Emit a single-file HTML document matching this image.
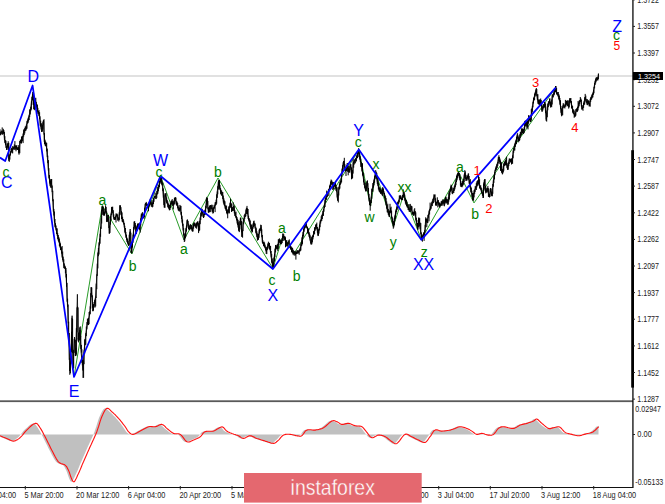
<!DOCTYPE html>
<html><head><meta charset="utf-8"><title>chart</title>
<style>
html,body{margin:0;padding:0;background:#fff;}
svg{display:block;font-family:"Liberation Sans",sans-serif;}
</style></head><body>
<svg width="665" height="504" viewBox="0 0 665 504">
<rect width="665" height="504" fill="#fff"/>
<!-- current price line -->
<rect x="0" y="75.5" width="633" height="1" fill="#c4c4c4"/>
<!-- wave lines -->
<polyline points="74.0,377.0 102.3,205.5 131.9,254.0 160.5,176.0 183.9,239.8 218.0,178.0 272.9,268.5 282.9,236.0 293.8,253.8 358.8,150.0 370.5,206.2 375.7,172.9 393.3,226.5 403.8,194.0 421.3,239.5 459.0,173.0 474.0,202.9 555.7,87.6" fill="none" stroke="#109010" stroke-width="0.9" stroke-linejoin="round"/>
<!-- price -->
<path d="M0.0 129.3V135.1M0.6 132.1V135.3M1.1 131.0V133.3M1.7 130.5V133.4M2.2 127.4V134.9M2.8 130.8V134.3M3.3 128.8V133.7M3.8 130.0V133.7M4.4 131.9V139.8M4.9 136.2V142.9M5.5 140.2V144.9M6.0 140.7V148.0M6.6 146.1V150.0M7.1 143.4V149.9M7.7 143.6V147.5M8.2 141.2V147.8M8.8 142.8V161.1M9.3 155.4V161.8M9.9 154.2V159.6M10.5 151.3V155.5M11.0 149.0V152.9M11.6 147.7V151.8M12.1 148.3V153.3M12.7 146.2V153.3M13.2 146.4V149.7M13.8 146.9V149.2M14.3 144.4V149.9M14.9 141.1V148.7M15.4 145.5V149.7M16.0 145.3V151.3M16.5 145.4V148.5M17.1 147.4V149.7M17.6 147.4V150.0M18.2 145.0V149.9M18.7 146.6V152.9M19.3 148.5V152.4M19.8 140.9V153.2M20.4 139.5V143.1M20.9 140.0V143.3M21.5 136.8V143.5M22.0 136.0V139.4M22.6 136.0V141.4M23.1 133.4V143.1M23.7 129.5V136.6M24.2 129.5V135.0M24.8 127.8V133.4M25.3 126.4V131.1M25.9 126.7V130.8M26.4 124.4V129.5M27.0 120.8V128.7M27.5 120.6V123.6M28.1 118.6V123.2M28.6 117.3V121.5M29.2 115.3V120.0M29.7 109.5V117.1M30.3 108.9V114.5M30.8 106.9V111.2M31.4 101.3V109.7M31.9 96.8V104.8M32.5 94.1V100.4M33.0 92.3V99.2M33.6 93.0V104.9M34.1 101.5V109.7M34.7 103.6V110.2M35.2 98.1V105.4M35.8 97.8V105.4M36.3 101.8V107.2M36.9 104.1V108.9M37.4 104.8V112.4M37.9 107.8V114.1M38.5 111.0V113.7M39.0 110.1V116.0M39.6 112.2V119.2M40.1 116.3V125.7M40.7 120.6V126.7M41.2 123.6V129.4M41.8 123.2V131.6M42.3 124.9V131.6M42.9 121.5V129.3M43.4 120.0V124.7M44.0 119.2V134.6M44.5 133.1V144.2M45.1 139.7V145.6M45.6 141.4V146.1M46.2 142.6V146.7M46.7 142.8V151.4M47.3 148.6V157.0M47.8 155.6V163.1M48.4 160.1V170.6M48.9 168.2V178.4M49.5 175.1V182.7M50.0 178.9V186.2M50.6 180.6V187.7M51.1 179.1V184.4M51.7 179.0V187.9M52.2 185.5V192.1M52.8 190.7V201.2M53.3 199.3V211.6M53.9 208.9V215.5M54.4 211.5V222.6M55.0 219.0V227.3M55.5 223.2V227.3M56.1 225.5V230.3M56.6 228.2V234.0M57.2 228.4V235.9M57.7 233.0V239.3M58.3 235.0V240.9M58.8 237.0V242.3M59.4 238.5V246.0M59.9 241.6V247.5M60.5 243.3V250.0M61.0 246.8V249.6M61.6 247.3V253.6M62.1 246.0V257.6M62.7 251.5V260.2M63.2 256.6V261.9M63.8 259.3V268.1M64.3 263.4V268.3M64.9 265.6V268.9M65.4 266.5V273.3M66.0 268.0V277.5M66.5 274.0V286.8M67.1 282.8V301.7M67.6 298.6V306.9M68.2 304.5V323.4M68.7 321.6V337.0M69.3 333.0V359.9M69.8 358.1V374.8M70.4 362.6V373.4M70.9 349.2V364.2M71.5 331.7V352.3M72.0 317.8V332.9M72.6 319.0V353.1M73.1 350.7V369.4M73.7 349.8V368.2M74.2 338.9V352.9M74.8 338.6V342.7M75.3 340.0V356.1M75.9 347.8V355.6M76.4 328.1V354.6M77.0 307.4V332.3M77.5 306.4V309.6M78.1 307.4V341.3M78.6 332.6V342.4M79.2 332.7V340.2M79.7 327.3V340.6M80.3 326.4V339.4M80.8 335.8V349.0M81.4 344.9V352.6M81.9 349.2V362.8M82.5 359.6V365.4M83.0 362.1V377.9M83.6 360.2V377.8M84.1 350.3V364.2M84.7 339.4V353.7M85.2 339.2V345.2M85.8 333.2V344.8M86.3 326.5V336.2M86.9 322.1V329.4M87.4 318.7V324.6M88.0 318.5V324.2M88.5 317.9V325.1M89.1 312.0V324.2M89.6 311.4V315.1M90.2 306.3V314.0M90.7 293.2V308.8M91.3 287.9V295.3M91.8 287.5V297.2M92.4 295.3V307.8M92.9 305.3V311.4M93.5 304.1V310.3M94.0 302.1V307.3M94.6 300.1V303.6M95.1 298.6V307.5M95.7 296.5V306.4M96.2 283.6V298.0M96.8 274.3V289.2M97.3 263.7V275.9M97.9 252.5V268.4M98.4 248.0V256.2M99.0 242.4V254.5M99.5 238.5V245.4M100.1 233.8V243.7M100.6 226.8V236.8M101.2 218.3V228.9M101.7 209.8V223.5M102.3 207.0V214.8M102.8 205.8V211.1M103.4 207.3V214.9M103.9 211.6V216.0M104.5 212.4V215.5M105.0 209.2V213.9M105.6 205.3V212.4M106.1 206.9V213.2M106.7 211.5V221.5M107.2 218.0V222.1M107.8 214.8V221.0M108.3 215.1V220.3M108.9 218.2V228.0M109.4 225.6V233.1M110.0 221.8V232.9M110.5 216.3V224.7M111.1 213.6V220.2M111.6 206.9V215.1M112.2 206.9V210.7M112.7 206.7V213.3M113.3 210.2V217.1M113.8 214.3V218.7M114.4 217.2V220.0M114.9 216.9V219.9M115.5 216.6V219.7M116.0 213.4V222.5M116.6 213.8V216.4M117.1 213.7V217.5M117.7 214.6V220.7M118.2 217.6V219.9M118.8 217.6V221.6M119.3 212.2V220.2M119.9 205.8V215.2M120.4 205.7V209.5M121.0 207.2V214.5M121.5 211.2V219.1M122.1 212.4V221.6M122.6 216.8V222.2M123.2 219.0V222.5M123.7 220.6V224.5M124.3 222.9V227.7M124.8 225.8V232.6M125.4 228.0V234.3M125.9 231.9V237.7M126.5 234.6V239.8M127.0 237.6V242.1M127.6 238.6V243.4M128.1 240.9V244.7M128.7 243.1V246.0M129.2 234.7V245.2M129.8 232.2V241.0M130.3 231.3V234.6M130.9 232.7V248.5M131.4 243.8V253.3M132.0 246.1V253.2M132.5 239.6V247.6M133.1 234.6V242.8M133.6 227.1V237.2M134.2 221.3V229.5M134.7 221.2V227.3M135.3 223.0V228.3M135.8 225.0V233.1M136.4 227.2V234.0M136.9 225.9V230.1M137.5 224.1V230.6M138.0 223.0V226.1M138.6 223.5V228.9M139.1 225.8V227.5M139.7 225.4V230.4M140.2 222.3V232.6M140.8 218.3V225.4M141.3 213.6V220.2M141.9 213.4V217.9M142.4 212.1V216.7M143.0 214.3V217.1M143.5 214.2V218.1M144.1 214.5V218.9M144.6 207.6V217.1M145.2 203.9V211.1M145.7 203.3V205.2M146.3 201.9V206.1M146.8 203.5V205.6M147.4 203.9V208.3M147.9 204.2V208.3M148.5 203.6V211.3M149.0 202.5V206.8M149.6 200.9V205.9M150.2 198.8V204.9M150.7 200.2V204.0M151.3 201.4V206.7M151.8 203.2V206.7M152.4 202.6V207.4M152.9 200.1V206.8M153.5 198.2V204.1M154.0 196.7V201.8M154.6 196.0V197.9M155.1 192.6V197.5M155.7 196.0V198.9M156.2 193.4V199.1M156.8 191.0V197.9M157.3 186.8V194.4M157.9 188.8V193.7M158.4 185.1V191.3M159.0 184.5V188.6M159.5 181.0V187.0M160.1 178.8V183.8M160.6 175.9V182.5M161.2 175.7V182.4M161.7 178.2V184.6M162.3 181.8V185.4M162.8 182.9V191.1M163.4 188.4V197.7M163.9 195.1V205.1M164.5 201.8V207.2M165.0 193.6V207.8M165.6 194.0V196.8M166.1 193.0V201.7M166.7 197.4V203.1M167.2 199.9V204.1M167.8 201.4V207.2M168.3 203.5V208.0M168.9 203.6V208.8M169.4 205.0V210.4M170.0 205.1V210.0M170.5 203.2V207.9M171.1 201.1V205.1M171.6 201.4V204.3M172.2 199.1V203.4M172.7 200.8V206.0M173.3 202.4V209.4M173.8 200.8V205.3M174.4 197.8V204.4M174.9 197.4V200.6M175.5 197.2V200.9M176.0 197.6V204.4M176.6 201.2V205.3M177.1 201.7V205.8M177.7 203.0V208.3M178.2 205.4V210.4M178.8 206.9V211.0M179.3 208.3V211.6M179.9 204.9V211.1M180.4 205.7V209.8M181.0 205.9V214.7M181.5 211.9V219.0M182.1 215.7V222.6M182.6 219.5V225.8M183.2 223.7V230.4M183.7 228.1V235.5M184.3 233.5V242.0M184.8 235.8V241.3M185.4 232.7V238.4M185.9 228.2V236.7M186.5 225.4V231.6M187.0 220.2V227.6M187.6 220.2V223.5M188.1 221.0V225.8M188.7 223.7V229.4M189.2 225.5V230.2M189.8 226.5V229.7M190.3 224.9V229.2M190.9 225.2V226.4M191.4 225.2V229.0M192.0 226.7V231.2M192.5 228.2V231.6M193.1 224.5V231.5M193.6 223.6V228.7M194.2 222.3V226.5M194.7 222.8V225.9M195.3 223.4V226.4M195.8 224.2V228.0M196.4 222.5V228.7M196.9 222.7V226.3M197.5 221.5V224.7M198.0 221.4V226.4M198.6 223.1V233.1M199.1 226.0V231.1M199.7 220.9V230.3M200.2 217.5V224.2M200.8 212.9V220.1M201.3 211.4V216.5M201.9 208.7V215.5M202.4 209.4V213.4M203.0 211.7V217.1M203.5 214.4V218.0M204.1 210.6V217.2M204.6 210.6V215.2M205.2 209.6V214.9M205.7 205.8V212.5M206.3 198.5V208.4M206.8 196.9V204.9M207.4 198.0V203.8M207.9 200.9V209.3M208.5 207.3V212.6M209.0 208.4V212.6M209.6 205.5V212.1M210.1 205.9V209.1M210.7 205.2V212.1M211.2 205.3V209.1M211.8 204.6V208.9M212.3 207.7V212.3M212.9 204.9V213.7M213.4 207.6V213.0M214.0 207.2V209.1M214.5 205.5V208.4M215.1 202.3V212.1M215.6 202.2V205.7M216.2 199.7V204.9M216.7 194.3V203.7M217.3 191.4V197.9M217.8 186.2V194.3M218.4 181.6V189.6M218.9 180.8V185.7M219.5 179.9V188.6M220.0 184.9V189.8M220.6 188.1V193.9M221.1 189.8V194.8M221.7 190.6V195.8M222.2 191.9V195.2M222.8 192.0V199.0M223.3 195.5V202.5M223.9 198.4V204.6M224.4 200.4V205.8M225.0 201.3V208.6M225.5 205.4V209.3M226.1 206.3V210.9M226.6 205.5V213.1M227.2 209.4V214.4M227.7 210.3V218.3M228.3 209.1V213.4M228.8 206.4V212.2M229.4 206.4V213.4M229.9 202.7V208.0M230.5 198.7V206.9M231.0 202.8V208.0M231.6 203.6V212.0M232.1 207.0V211.2M232.7 207.2V210.9M233.2 202.3V210.7M233.8 206.8V210.8M234.3 205.5V213.4M234.9 210.2V215.9M235.4 212.3V216.4M236.0 211.7V217.8M236.5 216.1V220.4M237.1 217.2V223.5M237.6 218.9V224.9M238.2 220.2V227.5M238.7 222.2V230.6M239.3 227.2V232.1M239.8 221.1V229.3M240.4 217.4V224.9M240.9 218.0V225.1M241.5 221.1V232.2M242.0 230.0V236.2M242.6 229.7V237.7M243.1 221.7V231.1M243.7 218.5V224.3M244.2 215.2V221.2M244.8 213.7V218.8M245.3 214.5V216.9M245.9 209.4V216.3M246.4 207.7V214.0M247.0 205.9V212.4M247.5 208.4V214.1M248.1 209.0V219.0M248.6 215.8V220.4M249.2 218.1V221.7M249.7 219.4V224.3M250.3 220.5V227.2M250.8 223.9V229.3M251.4 224.8V230.8M251.9 224.7V232.8M252.5 227.1V231.9M253.0 223.4V228.8M253.6 221.2V227.1M254.1 220.6V225.2M254.7 222.9V225.8M255.2 223.7V228.4M255.8 226.8V232.8M256.3 228.2V234.4M256.9 231.3V236.9M257.4 233.4V240.7M258.0 236.0V239.5M258.5 234.0V239.8M259.1 229.7V237.8M259.6 228.6V233.6M260.2 228.3V231.1M260.7 224.7V230.5M261.3 225.1V232.9M261.8 229.3V237.2M262.4 235.0V242.9M262.9 240.2V244.1M263.5 242.0V246.0M264.0 241.6V246.6M264.6 242.5V247.2M265.1 244.7V247.9M265.7 246.5V250.2M266.2 247.5V253.9M266.8 247.2V254.1M267.3 246.4V250.2M267.9 243.3V249.1M268.4 241.7V245.9M269.0 242.9V248.1M269.5 242.9V249.4M270.1 245.9V249.7M270.6 245.9V253.2M271.2 251.0V257.3M271.7 253.9V262.8M272.3 258.4V265.9M272.8 261.4V269.0M273.4 262.2V267.5M273.9 257.6V266.8M274.5 253.9V261.6M275.0 248.7V257.1M275.6 245.1V252.4M276.1 244.9V249.4M276.7 246.3V248.3M277.2 244.7V249.4M277.8 244.0V250.9M278.3 239.3V248.9M278.9 239.5V245.0M279.4 238.3V242.8M280.0 239.0V242.6M280.5 240.1V244.1M281.1 240.8V244.3M281.6 240.4V244.1M282.2 238.2V243.0M282.7 233.5V241.0M283.3 233.6V237.4M283.8 234.3V240.9M284.4 236.3V239.5M284.9 236.1V239.9M285.5 237.2V247.3M286.0 240.3V244.1M286.6 240.2V246.4M287.1 243.0V246.3M287.7 242.0V246.6M288.2 240.3V244.5M288.8 240.8V243.4M289.3 239.4V247.2M289.9 244.2V247.9M290.4 245.0V249.2M291.0 246.1V249.9M291.5 247.2V252.4M292.1 247.5V250.8M292.6 248.0V253.6M293.2 249.7V255.1M293.7 250.5V253.9M294.3 251.0V255.7M294.8 251.7V254.2M295.4 251.3V255.4M295.9 251.7V259.6M296.5 251.5V254.1M297.0 250.0V253.0M297.6 250.7V253.8M298.1 250.0V253.4M298.7 251.0V253.4M299.2 249.8V254.8M299.8 248.6V251.7M300.3 247.1V251.1M300.9 243.7V250.5M301.4 241.7V246.2M302.0 237.4V245.4M302.5 235.0V243.9M303.1 232.0V238.2M303.6 228.6V236.4M304.2 226.0V231.7M304.7 224.4V229.2M305.3 222.7V227.9M305.8 221.9V226.7M306.4 223.2V227.6M306.9 225.9V228.4M307.5 226.9V233.5M308.0 228.9V231.9M308.6 228.3V234.3M309.1 232.0V236.8M309.7 233.5V238.1M310.2 235.3V240.6M310.8 239.3V243.1M311.3 237.3V244.5M311.9 236.6V244.3M312.4 235.9V242.4M313.0 235.0V239.4M313.5 231.2V237.2M314.1 230.7V234.2M314.6 227.2V234.4M315.2 227.7V230.8M315.7 224.8V229.2M316.3 224.0V227.9M316.8 222.6V229.3M317.4 227.0V232.9M317.9 228.9V236.1M318.5 229.6V235.8M319.0 228.7V233.6M319.6 224.6V230.4M320.1 220.5V227.2M320.7 219.6V223.5M321.2 216.3V221.4M321.8 214.9V220.9M322.3 213.7V219.0M322.9 211.0V215.7M323.4 209.0V215.9M324.0 206.5V211.7M324.5 203.7V208.1M325.1 199.9V207.0M325.6 197.6V202.8M326.2 196.1V199.9M326.7 190.6V199.6M327.3 192.2V197.0M327.8 191.7V196.2M328.4 189.4V193.2M328.9 188.9V195.9M329.5 185.9V190.1M330.0 184.9V189.5M330.6 181.9V187.4M331.1 179.5V185.3M331.7 180.2V184.2M332.2 181.6V184.9M332.8 181.9V190.0M333.3 182.0V189.4M333.9 183.0V189.3M334.4 184.2V186.7M335.0 182.4V186.5M335.5 183.0V188.4M336.1 184.8V190.9M336.6 186.9V191.6M337.2 187.4V197.5M337.7 194.2V200.9M338.3 191.5V202.5M338.8 187.1V195.5M339.4 183.8V189.5M339.9 181.7V188.6M340.5 180.8V184.7M341.0 179.6V183.6M341.6 173.3V182.4M342.1 168.7V175.6M342.7 165.1V172.7M343.2 162.1V169.6M343.8 160.9V165.5M344.3 157.8V167.4M344.9 164.2V170.4M345.4 167.3V171.4M346.0 168.6V176.0M346.5 165.4V171.0M347.1 163.2V167.3M347.6 163.1V171.8M348.2 165.5V175.3M348.7 167.5V172.5M349.3 168.8V172.6M349.8 166.0V172.5M350.4 164.6V167.5M350.9 164.1V170.2M351.5 167.3V179.3M352.0 171.2V177.5M352.6 170.1V178.2M353.1 159.2V173.6M353.7 161.6V167.7M354.2 159.2V164.6M354.8 160.2V163.5M355.3 158.3V163.2M355.9 158.1V161.5M356.4 155.6V161.3M357.0 154.7V158.1M357.5 152.1V158.2M358.1 151.7V157.1M358.6 148.2V154.2M359.2 150.0V156.2M359.7 153.2V159.6M360.3 156.3V162.0M360.8 158.7V166.9M361.4 162.2V166.9M361.9 164.0V171.4M362.5 163.2V175.4M363.0 172.0V176.3M363.6 173.1V182.3M364.1 178.6V185.1M364.7 182.4V187.9M365.2 185.5V189.4M365.8 182.9V191.6M366.3 185.9V191.2M366.9 181.7V188.4M367.4 180.3V185.6M368.0 183.2V191.8M368.5 188.0V197.1M369.1 193.8V201.6M369.6 198.0V205.0M370.2 201.7V210.7M370.7 199.8V206.0M371.3 196.6V203.0M371.8 188.8V198.7M372.4 188.4V191.7M372.9 183.0V191.7M373.5 182.0V187.6M374.0 179.6V185.3M374.6 176.2V182.8M375.1 174.4V179.1M375.7 170.1V177.5M376.2 171.6V176.0M376.8 172.9V179.2M377.3 177.4V184.0M377.9 179.1V185.8M378.4 182.4V189.5M379.0 186.4V191.4M379.5 187.3V191.9M380.1 189.2V192.9M380.6 188.2V193.9M381.2 191.4V193.5M381.7 189.7V194.6M382.3 187.7V195.6M382.8 187.1V196.2M383.4 188.4V192.3M383.9 191.1V194.2M384.5 192.8V198.0M385.0 194.8V199.2M385.6 196.2V202.6M386.1 198.1V205.3M386.7 201.4V208.7M387.2 205.1V212.3M387.8 203.7V212.5M388.3 208.9V214.9M388.9 211.9V216.5M389.4 210.8V217.0M390.0 203.8V212.9M390.5 207.7V212.5M391.1 206.7V213.3M391.6 210.6V218.5M392.2 216.7V222.3M392.7 218.3V224.1M393.3 221.0V228.7M393.8 221.6V227.4M394.4 217.7V225.4M394.9 215.5V221.2M395.5 211.3V218.9M396.0 209.6V214.3M396.6 207.5V212.2M397.1 206.0V210.1M397.7 201.8V208.7M398.2 201.6V204.6M398.8 200.2V203.7M399.3 195.5V202.3M399.9 195.4V198.4M400.4 195.3V199.0M401.0 195.7V199.6M401.5 197.5V200.3M402.1 198.3V199.8M402.6 194.8V200.1M403.2 189.3V197.8M403.7 191.5V197.1M404.3 192.2V196.6M404.8 194.7V200.7M405.4 198.3V203.5M405.9 199.7V204.8M406.5 200.1V206.0M407.0 201.7V207.3M407.6 204.3V207.5M408.1 204.3V210.0M408.7 207.0V210.3M409.2 204.2V211.8M409.8 208.9V211.9M410.3 203.9V211.9M410.9 205.4V209.7M411.4 206.0V210.5M412.0 206.3V214.6M412.5 211.9V214.3M413.1 211.5V214.7M413.6 212.0V215.9M414.2 209.4V215.3M414.7 208.2V213.9M415.3 211.1V216.4M415.8 212.4V220.3M416.4 217.7V222.3M416.9 220.1V226.3M417.5 223.0V229.4M418.0 224.3V229.8M418.6 217.6V227.2M419.1 217.6V222.0M419.7 218.1V226.4M420.2 222.6V229.1M420.8 223.1V234.3M421.3 232.4V237.4M421.9 234.9V240.2M422.4 235.5V241.7M423.0 234.2V237.7M423.5 232.7V237.1M424.1 232.1V240.9M424.6 230.2V235.1M425.2 224.9V232.3M425.7 217.3V227.6M426.3 218.6V222.5M426.8 218.5V227.1M427.4 219.7V223.1M427.9 214.8V222.8M428.5 214.2V217.7M429.0 210.5V221.3M429.6 209.2V214.5M430.1 202.6V210.7M430.7 206.3V209.6M431.2 203.6V208.7M431.8 201.8V205.7M432.3 200.7V206.1M432.9 198.9V203.4M433.4 197.9V203.1M434.0 194.2V200.2M434.5 194.9V197.3M435.1 194.4V202.1M435.6 198.2V205.5M436.2 202.1V206.0M436.7 201.6V205.2M437.3 197.3V203.3M437.8 199.9V207.4M438.4 200.1V204.7M438.9 202.0V206.4M439.5 202.7V207.3M440.0 204.0V207.5M440.6 203.6V205.9M441.1 201.4V205.8M441.7 201.1V205.5M442.2 200.4V205.7M442.8 199.3V204.3M443.3 200.3V203.7M443.9 199.6V205.7M444.4 199.7V206.3M445.0 198.9V204.3M445.5 196.9V202.8M446.1 196.7V201.5M446.6 198.9V203.5M447.2 199.7V202.3M447.7 199.2V204.8M448.3 197.2V204.5M448.8 192.4V201.6M449.4 191.4V199.6M449.9 189.8V195.2M450.5 187.7V191.7M451.0 184.6V190.4M451.6 185.2V190.4M452.1 187.4V193.6M452.7 191.3V194.2M453.2 188.1V192.9M453.8 187.6V193.0M454.3 185.9V190.9M454.9 184.6V189.3M455.4 182.1V187.3M456.0 179.4V185.2M456.5 175.5V182.1M457.1 174.2V180.3M457.6 173.1V178.4M458.2 172.0V176.4M458.7 171.1V175.7M459.3 172.9V178.0M459.8 174.0V180.2M460.4 176.5V185.6M460.9 180.9V187.0M461.5 183.3V186.8M462.0 182.9V187.3M462.6 180.8V186.4M463.1 181.3V185.3M463.7 178.8V184.5M464.2 174.4V182.1M464.8 170.1V178.1M465.3 171.3V179.2M465.9 174.8V181.0M466.4 177.4V180.5M467.0 175.4V180.7M467.5 175.8V178.7M468.1 173.6V179.9M468.6 173.4V178.9M469.2 176.0V183.8M469.7 180.2V186.9M470.3 179.1V188.7M470.8 186.6V192.2M471.4 187.6V193.2M471.9 190.8V196.9M472.5 192.9V200.2M473.0 195.2V200.6M473.6 192.9V200.6M474.1 189.9V197.4M474.7 189.7V193.9M475.2 186.2V191.9M475.8 186.4V189.5M476.3 183.2V190.0M476.9 181.3V187.3M477.4 181.2V185.8M478.0 180.2V185.6M478.5 176.0V184.1M479.1 177.0V184.7M479.6 179.3V188.4M480.2 186.0V188.9M480.7 185.1V189.7M481.3 187.5V191.8M481.8 188.4V193.8M482.4 191.6V195.5M482.9 192.8V198.0M483.5 183.5V197.9M484.0 182.1V189.9M484.6 179.1V186.0M485.1 179.1V191.1M485.7 186.0V193.4M486.2 189.4V192.4M486.8 187.9V192.8M487.3 187.6V191.4M487.9 185.9V192.2M488.4 188.2V196.8M489.0 193.8V196.6M489.5 194.0V197.5M490.1 188.6V196.8M490.6 188.0V192.1M491.2 188.5V194.7M491.7 191.7V196.2M492.3 191.5V196.3M492.8 184.0V193.8M493.4 179.9V186.7M493.9 175.5V182.9M494.5 172.4V179.4M495.0 169.6V175.2M495.6 167.5V171.1M496.1 166.1V170.3M496.7 164.4V169.6M497.2 163.6V168.0M497.8 162.0V165.8M498.3 156.8V163.6M498.9 155.2V160.8M499.4 156.9V161.9M500.0 158.6V164.0M500.5 160.4V170.9M501.1 161.9V168.3M501.6 162.5V172.7M502.2 169.6V172.6M502.7 168.9V173.9M503.3 166.1V172.4M503.8 163.7V170.7M504.4 161.4V166.2M504.9 161.7V165.5M505.5 160.1V165.3M506.0 158.6V164.9M506.6 156.7V165.2M507.1 162.8V168.0M507.7 164.7V169.8M508.2 163.4V169.7M508.8 161.8V166.1M509.3 158.3V163.9M509.9 159.5V160.9M510.4 158.8V162.3M511.0 158.7V162.6M511.5 158.4V164.5M512.1 159.7V162.9M512.6 155.4V163.9M513.2 150.6V158.3M513.7 148.0V152.8M514.3 145.5V150.5M514.8 143.5V150.5M515.4 141.6V146.9M515.9 140.3V144.6M516.5 137.1V143.9M517.0 134.5V141.5M517.6 133.2V138.7M518.1 135.4V140.7M518.7 136.8V142.3M519.2 138.0V140.9M519.8 134.3V140.2M520.3 132.1V137.7M520.9 132.1V136.1M521.4 128.7V135.1M522.0 127.9V131.9M522.5 128.8V133.6M523.1 129.2V130.9M523.6 129.1V134.1M524.2 127.2V132.9M524.7 121.2V129.8M525.3 120.5V126.3M525.8 120.8V126.4M526.4 121.3V125.1M526.9 121.8V128.3M527.5 121.1V127.2M528.0 120.2V129.4M528.6 115.2V123.7M529.1 115.5V119.6M529.7 116.5V120.5M530.2 117.7V122.0M530.8 117.8V121.6M531.3 109.1V120.6M531.9 108.4V116.0M532.4 105.8V111.8M533.0 101.8V107.4M533.5 97.6V103.5M534.1 97.8V100.5M534.6 93.5V100.1M535.2 91.9V96.6M535.7 89.4V95.3M536.3 88.0V92.7M536.8 89.0V96.2M537.4 94.3V100.0M537.9 94.2V103.8M538.5 99.5V103.8M539.0 99.8V105.0M539.6 99.5V105.6M540.1 99.5V103.5M540.7 98.5V105.6M541.2 100.0V105.9M541.8 103.8V111.6M542.3 106.9V111.7M542.9 106.0V110.4M543.4 104.2V108.5M544.0 105.0V107.9M544.5 102.0V107.3M545.1 102.4V106.1M545.6 103.8V113.1M546.2 110.5V121.0M546.7 112.7V121.6M547.3 106.5V117.3M547.8 103.5V110.3M548.4 101.2V107.2M548.9 102.3V105.1M549.5 98.6V103.5M550.0 98.4V105.8M550.6 101.6V107.6M551.1 102.9V106.4M551.7 99.6V107.2M552.2 94.6V104.5M552.8 94.5V97.3M553.3 93.4V97.4M553.9 91.3V95.5M554.4 88.8V94.7M555.0 88.3V91.7M555.5 86.0V92.2M556.1 86.1V92.4M556.6 88.0V94.2M557.2 92.0V94.7M557.7 92.4V95.2M558.3 92.0V97.1M558.8 94.0V99.4M559.4 95.5V100.6M559.9 98.0V104.7M560.5 100.2V108.9M561.0 105.9V112.8M561.6 108.4V116.3M562.1 110.0V115.5M562.7 106.6V115.2M563.2 103.2V108.3M563.8 103.6V107.3M564.3 105.6V107.9M564.9 104.4V108.5M565.4 99.9V106.6M566.0 101.7V106.5M566.5 100.8V104.7M567.1 100.6V104.1M567.6 100.4V106.0M568.2 103.8V106.8M568.7 100.5V108.6M569.3 100.0V107.4M569.8 98.5V102.7M570.4 98.9V101.9M570.9 98.0V103.1M571.5 101.1V108.0M572.0 104.8V109.0M572.6 106.0V112.6M573.1 109.2V113.5M573.7 109.5V114.1M574.2 110.6V117.8M574.8 113.4V117.0M575.3 112.2V116.6M575.9 109.0V115.6M576.4 108.9V111.5M577.0 107.9V112.1M577.5 106.9V111.6M578.1 101.0V110.5M578.6 102.4V107.8M579.2 100.5V106.3M579.7 100.2V103.9M580.3 97.0V102.0M580.8 98.3V101.1M581.4 99.6V106.7M581.9 105.0V109.8M582.5 107.4V109.4M583.0 105.3V110.8M583.6 102.9V107.9M584.1 101.4V105.1M584.7 97.3V104.5M585.2 93.9V100.0M585.8 95.6V101.5M586.3 98.9V102.6M586.9 101.2V104.6M587.4 99.2V105.2M588.0 100.7V104.0M588.5 100.4V103.6M589.1 101.0V106.4M589.6 103.0V106.2M590.2 98.8V106.7M590.7 97.2V101.9M591.3 96.4V99.9M591.8 94.6V99.2M592.4 94.0V97.7M592.9 92.7V97.4M593.5 89.8V94.8M594.0 86.8V93.3M594.6 82.9V88.4M595.1 80.6V85.0M595.7 78.4V83.4M596.2 77.4V81.7M596.8 77.1V80.9M597.3 77.5V79.7M597.9 76.8V80.5M598.4 73.5V79.1" stroke="#000" stroke-width="1.0" fill="none"/>
<polyline points="0.0,134.3 2.9,133.0 3.6,130.7 4.8,141.4 6.7,148.6 8.3,143.0 8.8,159.3 10.7,152.0 13.0,148.6 15.5,146.2 17.1,149.8 18.3,147.4 19.0,154.5 20.0,141.4 22.6,138.0 23.8,132.0 26.2,126.0 28.0,118.8 29.8,112.9 31.0,105.7 32.9,92.0 33.8,109.0 35.2,101.0 37.0,108.0 39.3,116.4 41.7,132.0 43.6,121.0 44.2,141.4 46.4,146.2 47.6,160.5 48.8,174.8 50.0,184.3 51.2,179.5 52.0,189.0 53.1,205.7 54.8,224.8 56.7,232.0 59.0,241.4 61.4,251.0 63.8,265.0 65.7,270.0 66.4,282.0 67.4,303.8 68.4,327.6 69.2,351.0 69.7,371.0 70.6,361.0 72.1,315.7 72.9,368.0 74.5,337.0 75.7,356.0 77.4,294.3 78.1,339.5 80.0,330.0 81.0,351.4 82.9,370.5 84.0,351.4 85.7,334.8 87.6,322.9 90.0,313.3 91.2,287.0 92.9,311.0 95.2,301.4 96.5,281.0 97.9,255.0 99.8,238.6 101.0,222.0 102.1,206.4 104.0,214.8 105.7,207.6 106.9,222.0 108.1,215.0 109.3,233.8 110.5,217.0 112.1,207.6 114.0,219.5 116.4,214.8 118.8,219.5 120.0,205.0 121.7,217.0 123.6,222.0 125.5,233.8 127.1,241.0 128.8,245.7 130.2,229.0 131.2,252.9 132.6,241.0 134.3,222.0 136.0,231.4 137.9,224.3 139.8,229.0 141.4,214.8 143.8,217.0 145.5,202.9 147.9,206.4 150.2,201.7 152.1,205.2 154.0,198.0 156.4,195.7 158.3,188.6 160.5,177.9 162.4,186.2 164.3,207.6 165.2,193.3 167.1,202.9 169.5,210.0 171.4,200.5 173.1,205.2 174.8,198.0 176.7,204.0 178.6,210.0 180.2,207.6 181.9,219.5 183.3,231.4 184.3,239.8 185.7,231.4 187.4,219.5 188.6,229.0 190.5,224.3 192.1,230.2 193.8,223.0 195.7,226.7 197.6,221.9 198.6,231.4 200.0,219.5 201.7,210.0 203.3,216.0 205.2,211.2 206.9,198.0 208.3,212.4 210.5,205.2 212.4,211.2 214.3,206.4 216.2,201.7 217.6,188.6 218.6,180.2 220.0,189.8 221.9,193.3 223.8,202.9 225.5,207.6 227.1,213.6 229.0,207.6 230.5,203.8 231.9,211.0 233.6,206.2 235.2,215.7 237.1,220.5 239.0,231.2 240.5,218.0 241.9,237.0 243.3,220.5 245.2,215.7 246.7,208.6 248.0,215.7 250.0,225.2 251.9,231.2 253.8,222.9 255.7,230.0 257.6,239.5 259.5,231.2 261.0,227.6 262.4,241.9 264.3,245.5 266.2,251.4 268.1,244.3 270.0,249.0 271.4,258.6 272.9,266.9 274.3,256.2 275.7,245.5 277.1,249.0 279.0,239.5 281.0,243.0 282.9,236.0 284.8,239.5 286.7,244.3 288.6,243.0 290.5,247.9 292.4,251.4 294.3,253.8 296.7,252.6 299.0,251.4 300.3,249.0 301.9,239.5 303.6,230.0 305.2,224.0 307.1,227.6 309.0,234.8 311.0,244.3 312.4,237.0 314.3,231.4 316.2,224.3 318.0,234.8 320.0,222.9 321.9,218.0 323.8,208.6 325.2,199.0 327.1,194.3 329.0,189.5 331.0,181.2 332.9,187.0 334.8,184.8 336.7,191.9 337.6,200.2 339.0,187.0 341.0,180.0 342.4,168.0 343.8,161.0 345.2,170.5 347.1,165.7 349.0,171.7 350.5,164.5 351.9,178.8 353.3,163.3 355.2,159.8 357.1,156.2 358.6,150.2 360.0,158.6 361.4,165.7 362.9,175.2 364.3,184.8 365.7,190.7 367.1,181.2 368.6,196.7 370.3,205.5 371.9,190.5 373.8,181.0 375.7,172.6 377.1,181.0 379.0,189.3 381.0,192.9 382.9,189.3 384.8,197.6 386.7,207.0 388.6,214.3 390.5,209.5 391.9,219.0 393.3,226.2 394.8,216.7 396.2,209.5 398.1,202.4 400.0,196.4 401.9,200.0 403.8,194.0 405.2,201.2 407.1,206.0 409.0,209.5 411.0,208.3 412.9,214.3 414.8,211.9 416.2,221.4 417.6,228.6 419.0,219.0 420.5,231.0 421.9,239.3 423.3,234.5 424.8,231.0 425.7,219.0 427.1,221.4 428.6,214.3 430.5,207.0 432.4,202.4 434.3,195.2 435.7,204.8 437.6,201.2 439.5,206.0 440.5,204.5 441.9,201.7 443.8,202.9 445.7,198.0 447.6,202.9 449.5,193.3 451.0,186.2 452.4,193.3 454.3,188.6 455.7,181.4 457.1,176.7 458.6,173.0 460.0,179.0 461.4,186.2 463.3,181.4 464.8,173.0 466.2,179.0 468.1,175.5 469.5,183.8 471.0,191.0 472.9,199.3 474.3,191.0 476.2,186.2 478.1,180.2 479.5,186.2 481.4,191.0 482.9,195.7 484.3,180.2 485.7,192.0 487.6,188.6 489.0,196.9 490.5,189.8 491.9,195.7 493.3,181.4 494.8,171.9 496.7,167.0 498.6,157.6 500.5,164.8 502.4,174.3 503.8,163.6 505.7,161.2 507.6,169.5 509.2,159.5 510.3,160.0 511.9,162.4 513.3,150.5 515.2,143.3 517.1,136.2 519.0,141.0 520.5,133.8 521.9,129.0 523.8,131.4 525.2,121.9 527.1,126.7 528.6,117.0 530.5,121.9 531.9,110.0 533.3,100.5 534.8,94.5 536.2,91.0 537.6,100.5 539.0,104.0 540.5,100.5 541.9,110.0 543.3,106.4 544.8,102.9 546.2,119.5 547.6,105.2 549.5,100.5 551.0,106.4 552.4,95.7 554.3,92.1 555.7,88.6 557.1,94.5 558.6,96.9 560.0,102.9 561.4,114.8 562.9,105.2 564.8,106.4 566.7,102.9 568.6,106.4 570.0,98.0 571.4,105.2 572.9,111.2 574.8,116.0 576.2,110.0 577.6,107.6 579.0,104.0 580.5,99.3 581.9,108.8 583.3,105.2 585.2,97.0 586.4,102.5 588.0,100.9 589.2,105.1 590.4,99.7 592.2,96.1 593.4,91.3 594.6,84.1 595.8,79.3 597.0,78.0 597.6,79.9 598.5,73.8" fill="none" stroke="#000" stroke-width="0.8" stroke-linejoin="round"/>
<polyline points="0.0,157.6 5.2,161.0 32.6,85.5 74.0,377.0 160.5,176.0 272.9,269.0 358.8,149.5 421.3,239.8 555.7,87.6" fill="none" stroke="#0000ff" stroke-width="1.75" stroke-linejoin="round"/>
<!-- oscillator -->
<path d="M0,434.4 L0.0,435.7 L0.0,436.0 L0.0,436.4 L0.6,436.9 L1.9,437.4 L3.2,437.9 L4.4,438.4 L5.5,438.9 L6.6,439.5 L7.7,440.1 L8.8,440.6 L9.9,441.0 L11.1,441.1 L12.2,440.9 L13.3,440.6 L14.4,440.0 L15.5,439.4 L16.6,438.6 L17.7,437.7 L18.8,436.7 L19.9,435.5 L21.0,434.1 L22.1,432.7 L23.2,431.3 L24.4,430.1 L25.7,428.8 L27.2,427.4 L28.7,426.0 L30.2,424.8 L31.6,423.9 L32.8,423.4 L33.7,423.3 L34.4,423.5 L35.1,424.0 L35.7,424.7 L36.3,425.7 L37.1,426.7 L37.9,428.0 L38.8,429.4 L39.8,431.1 L40.8,432.9 L41.7,434.8 L42.8,436.7 L43.8,438.8 L44.9,441.0 L46.0,443.3 L47.2,445.6 L48.3,447.9 L49.4,450.1 L50.6,452.2 L51.7,454.4 L52.8,456.6 L53.9,458.6 L55.0,460.3 L56.1,461.8 L57.3,462.8 L58.5,463.4 L59.7,463.9 L60.8,464.2 L61.9,464.5 L62.8,465.1 L63.5,465.8 L64.1,466.4 L64.6,467.1 L65.0,467.9 L65.5,468.9 L66.1,470.1 L66.9,471.9 L67.7,474.3 L68.5,476.8 L69.4,479.1 L70.3,480.9 L71.1,481.8 L72.0,481.6 L72.8,480.6 L73.6,479.1 L74.5,477.2 L75.3,475.3 L76.2,473.5 L77.0,471.7 L77.8,469.9 L78.6,468.0 L79.4,466.0 L80.2,463.9 L81.2,461.8 L82.2,459.5 L83.3,457.0 L84.4,454.5 L85.5,451.9 L86.7,449.3 L87.8,446.7 L89.0,444.2 L90.1,441.7 L91.3,439.2 L92.4,436.7 L93.5,434.2 L94.5,431.7 L95.4,429.1 L96.3,426.5 L97.1,423.8 L97.9,421.2 L98.7,418.8 L99.5,416.7 L100.4,414.8 L101.2,413.0 L102.0,411.4 L102.9,410.0 L103.7,409.0 L104.5,408.4 L105.3,408.2 L106.1,408.5 L106.9,409.1 L107.7,409.9 L108.6,410.8 L109.5,411.7 L110.6,412.6 L111.6,413.6 L112.8,414.7 L113.9,415.9 L115.1,417.1 L116.2,418.4 L117.4,419.7 L118.6,421.2 L119.8,422.6 L120.9,424.1 L122.0,425.5 L122.9,426.7 L123.6,427.8 L124.2,428.7 L124.7,429.6 L125.2,430.3 L125.7,431.1 L126.2,431.7 L126.9,432.4 L127.5,433.0 L128.1,433.6 L128.9,434.0 L129.7,434.3 L130.6,434.4 L131.6,434.2 L132.8,433.8 L134.0,433.2 L135.3,432.5 L136.6,431.7 L137.9,431.1 L139.3,430.3 L140.7,429.5 L142.1,428.7 L143.6,427.9 L145.0,427.2 L146.3,426.7 L147.5,426.5 L148.6,426.5 L149.7,426.6 L150.8,426.7 L151.8,426.8 L152.9,426.7 L154.1,426.4 L155.2,425.9 L156.4,425.3 L157.5,424.8 L158.6,424.4 L159.6,424.4 L160.5,424.7 L161.3,425.2 L162.1,425.9 L162.9,426.7 L163.7,427.6 L164.6,428.4 L165.6,429.2 L166.7,430.1 L167.9,431.1 L169.0,432.0 L170.2,432.8 L171.3,433.4 L172.4,433.7 L173.5,433.8 L174.6,433.7 L175.7,433.7 L176.9,433.9 L178.0,434.4 L179.1,435.4 L180.2,436.7 L181.3,438.2 L182.4,439.7 L183.5,441.0 L184.6,441.7 L185.8,442.0 L186.9,441.9 L188.0,441.6 L189.1,441.1 L190.2,440.5 L191.3,440.1 L192.5,439.6 L193.6,439.1 L194.8,438.6 L195.9,438.0 L197.0,437.4 L198.0,436.7 L198.9,435.9 L199.6,435.0 L200.2,434.1 L200.9,433.1 L201.7,432.3 L202.7,431.7 L203.9,431.4 L205.3,431.3 L206.9,431.2 L208.4,431.3 L209.8,431.2 L211.1,431.1 L212.1,430.7 L213.0,430.3 L213.8,429.8 L214.6,429.2 L215.3,428.8 L216.1,428.4 L216.8,428.0 L217.6,427.6 L218.3,427.3 L219.0,427.0 L219.7,426.9 L220.4,427.0 L221.1,427.4 L221.7,428.0 L222.4,428.8 L223.0,429.6 L223.7,430.4 L224.4,431.1 L225.2,431.5 L225.9,432.0 L226.7,432.3 L227.6,432.7 L228.5,433.0 L229.4,433.4 L230.4,433.8 L231.6,434.2 L232.8,434.5 L233.9,434.9 L235.1,435.3 L236.1,435.7 L237.0,436.2 L237.8,436.8 L238.6,437.4 L239.4,437.9 L240.2,438.3 L241.1,438.4 L242.1,438.2 L243.2,437.7 L244.3,437.1 L245.5,436.4 L246.6,435.9 L247.8,435.7 L248.9,435.9 L249.9,436.2 L251.0,436.7 L252.1,437.3 L253.2,437.9 L254.5,438.4 L255.7,438.8 L257.1,439.3 L258.5,439.8 L260.0,440.2 L261.4,440.6 L262.8,441.1 L264.2,441.5 L265.7,442.1 L267.2,442.6 L268.6,443.1 L269.9,443.3 L271.1,443.4 L272.2,443.2 L273.1,442.8 L273.9,442.2 L274.6,441.5 L275.4,440.8 L276.2,440.1 L277.0,439.3 L277.8,438.4 L278.6,437.4 L279.4,436.5 L280.2,435.7 L281.2,435.1 L282.2,434.7 L283.3,434.4 L284.4,434.3 L285.5,434.3 L286.7,434.3 L287.8,434.4 L289.0,434.5 L290.1,434.7 L291.3,435.0 L292.4,435.3 L293.5,435.6 L294.5,435.7 L295.4,435.9 L296.3,436.0 L297.1,436.2 L297.9,436.2 L298.7,436.1 L299.5,435.7 L300.3,435.0 L301.1,434.0 L301.8,432.9 L302.6,431.7 L303.5,430.7 L304.5,430.1 L305.7,429.8 L307.1,429.7 L308.5,429.8 L310.0,430.0 L311.4,430.1 L312.9,430.1 L314.3,429.8 L315.7,429.6 L317.0,429.3 L318.4,428.9 L319.8,428.4 L321.2,427.7 L322.6,426.8 L324.1,425.5 L325.6,424.2 L327.0,422.9 L328.4,421.8 L329.6,421.0 L330.6,420.7 L331.5,420.6 L332.3,420.8 L333.0,421.1 L333.8,421.4 L334.6,421.7 L335.4,422.1 L336.2,422.6 L337.0,423.1 L337.8,423.7 L338.6,424.1 L339.6,424.4 L340.6,424.4 L341.7,424.2 L342.8,423.9 L344.0,423.6 L345.1,423.4 L346.3,423.4 L347.4,423.6 L348.5,424.0 L349.6,424.4 L350.7,424.9 L351.8,425.4 L352.9,425.7 L354.1,425.9 L355.2,426.0 L356.4,426.0 L357.5,426.1 L358.6,426.3 L359.6,426.7 L360.5,427.4 L361.4,428.3 L362.2,429.3 L363.0,430.3 L363.8,431.4 L364.6,432.4 L365.4,433.4 L366.2,434.5 L367.0,435.6 L367.8,436.6 L368.7,437.3 L369.6,437.7 L370.6,437.7 L371.7,437.3 L372.9,436.6 L374.0,435.9 L375.2,435.3 L376.3,435.1 L377.4,435.0 L378.5,435.2 L379.6,435.4 L380.8,435.8 L381.9,436.2 L383.0,436.7 L384.1,437.4 L385.3,438.3 L386.4,439.2 L387.6,440.2 L388.6,441.1 L389.7,441.7 L390.6,442.3 L391.3,442.9 L392.1,443.4 L392.8,443.8 L393.7,443.8 L394.7,443.4 L395.8,442.4 L397.2,440.8 L398.6,438.9 L400.0,437.0 L401.4,435.4 L402.7,434.4 L403.9,434.1 L405.0,434.3 L406.1,434.8 L407.2,435.5 L408.3,436.2 L409.4,436.7 L410.5,437.2 L411.6,437.8 L412.7,438.4 L413.8,439.0 L414.9,439.6 L416.1,440.1 L417.2,440.6 L418.3,441.2 L419.5,441.8 L420.6,442.3 L421.7,442.5 L422.7,442.4 L423.7,441.9 L424.5,441.1 L425.3,440.1 L426.1,439.0 L426.9,437.8 L427.7,436.7 L428.6,435.6 L429.4,434.3 L430.1,433.0 L431.0,431.7 L431.8,430.7 L432.8,430.1 L433.7,429.8 L434.8,429.9 L435.9,430.2 L437.0,430.6 L438.2,430.9 L439.4,431.1 L440.8,431.0 L442.2,430.9 L443.7,430.7 L445.2,430.5 L446.6,430.3 L447.8,430.1 L448.8,429.8 L449.7,429.5 L450.5,429.3 L451.2,429.0 L452.0,428.7 L452.8,428.4 L453.6,428.1 L454.4,427.7 L455.2,427.3 L456.0,427.0 L456.9,426.8 L457.8,426.7 L458.8,426.8 L460.0,427.0 L461.1,427.3 L462.3,427.6 L463.4,428.0 L464.5,428.4 L465.4,428.8 L466.3,429.2 L467.1,429.6 L467.9,430.1 L468.7,430.6 L469.5,431.1 L470.3,431.6 L471.1,432.3 L472.0,433.0 L472.8,433.6 L473.6,434.1 L474.5,434.4 L475.3,434.4 L476.1,434.3 L476.9,434.0 L477.7,433.7 L478.6,433.5 L479.5,433.4 L480.5,433.5 L481.7,433.8 L482.8,434.2 L484.0,434.6 L485.1,434.9 L486.2,435.1 L487.1,435.1 L488.0,435.2 L488.8,435.2 L489.6,435.1 L490.4,434.8 L491.2,434.4 L492.0,433.6 L492.8,432.6 L493.7,431.5 L494.5,430.3 L495.3,429.2 L496.2,428.4 L497.0,427.8 L497.7,427.4 L498.4,427.1 L499.1,426.9 L500.1,426.7 L501.2,426.7 L502.6,426.9 L504.3,427.2 L506.1,427.7 L507.9,428.1 L509.7,428.4 L511.2,428.4 L512.5,428.1 L513.7,427.6 L514.8,426.9 L515.8,426.2 L516.8,425.6 L517.9,425.0 L519.0,424.7 L520.1,424.4 L521.2,424.1 L522.3,423.9 L523.4,423.7 L524.6,423.4 L525.7,423.0 L526.9,422.6 L528.1,422.2 L529.3,421.8 L530.3,421.4 L531.2,421.0 L532.0,420.6 L532.5,420.1 L533.0,419.6 L533.5,419.2 L534.0,419.0 L534.6,419.0 L535.3,419.4 L536.1,420.0 L536.9,420.8 L537.7,421.6 L538.6,422.5 L539.6,423.4 L540.6,424.2 L541.7,425.2 L542.9,426.2 L544.1,427.1 L545.2,427.9 L546.3,428.4 L547.2,428.6 L548.0,428.6 L548.8,428.4 L549.6,428.1 L550.4,427.9 L551.3,427.7 L552.2,427.5 L553.2,427.3 L554.2,427.0 L555.3,426.8 L556.3,426.8 L557.3,427.0 L558.2,427.6 L559.2,428.5 L560.1,429.6 L561.0,430.6 L561.9,431.6 L562.9,432.4 L564.0,432.9 L565.1,433.3 L566.2,433.6 L567.4,433.9 L568.5,434.1 L569.6,434.4 L570.7,434.7 L571.9,435.0 L573.0,435.3 L574.1,435.5 L575.2,435.7 L576.3,435.7 L577.4,435.6 L578.5,435.4 L579.6,435.1 L580.8,434.7 L581.9,434.4 L583.0,434.1 L584.1,433.8 L585.3,433.5 L586.5,433.3 L587.7,433.0 L588.7,432.7 L589.7,432.4 L590.4,432.1 L591.0,431.7 L591.5,431.3 L592.0,430.9 L592.5,430.5 L593.0,430.1 L593.6,429.5 L594.2,428.9 L594.9,428.2 L595.5,427.6 L596.0,427.1 L596.3,426.7 L598.5,425.7 L598.5,434.4 Z" fill="#c0c0c0"/>
<polyline points="0.0,435.7 0.7,436.0 1.7,436.4 2.9,436.9 4.2,437.4 5.5,437.9 6.7,438.4 7.8,438.9 8.9,439.5 10.0,440.1 11.1,440.6 12.2,441.0 13.4,441.1 14.5,440.9 15.6,440.6 16.7,440.0 17.8,439.4 18.9,438.6 20.0,437.7 21.1,436.7 22.2,435.5 23.3,434.1 24.4,432.7 25.5,431.3 26.7,430.1 28.0,428.8 29.5,427.4 31.0,426.0 32.5,424.8 33.9,423.9 35.1,423.4 36.0,423.3 36.7,423.5 37.4,424.0 38.0,424.7 38.6,425.7 39.4,426.7 40.2,428.0 41.1,429.4 42.1,431.1 43.1,432.9 44.0,434.8 45.1,436.7 46.1,438.8 47.2,441.0 48.3,443.3 49.5,445.6 50.6,447.9 51.7,450.1 52.9,452.2 54.0,454.4 55.1,456.6 56.2,458.6 57.3,460.3 58.4,461.8 59.6,462.8 60.8,463.4 62.0,463.9 63.1,464.2 64.2,464.5 65.1,465.1 65.8,465.8 66.4,466.4 66.9,467.1 67.3,467.9 67.8,468.9 68.4,470.1 69.2,471.9 70.0,474.3 70.8,476.8 71.7,479.1 72.6,480.9 73.4,481.8 74.3,481.6 75.1,480.6 75.9,479.1 76.8,477.2 77.6,475.3 78.5,473.5 79.3,471.7 80.1,469.9 80.9,468.0 81.7,466.0 82.5,463.9 83.5,461.8 84.5,459.5 85.6,457.0 86.7,454.5 87.8,451.9 89.0,449.3 90.1,446.7 91.3,444.2 92.4,441.7 93.6,439.2 94.7,436.7 95.8,434.2 96.8,431.7 97.7,429.1 98.6,426.5 99.4,423.8 100.2,421.2 101.0,418.8 101.8,416.7 102.7,414.8 103.5,413.0 104.3,411.4 105.2,410.0 106.0,409.0 106.8,408.4 107.6,408.2 108.4,408.5 109.2,409.1 110.0,409.9 110.9,410.8 111.8,411.7 112.9,412.6 113.9,413.6 115.1,414.7 116.2,415.9 117.4,417.1 118.5,418.4 119.7,419.7 120.9,421.2 122.1,422.6 123.2,424.1 124.3,425.5 125.2,426.7 125.9,427.8 126.5,428.7 127.0,429.6 127.5,430.3 128.0,431.1 128.5,431.7 129.2,432.4 129.8,433.0 130.4,433.6 131.2,434.0 132.0,434.3 132.9,434.4 133.9,434.2 135.1,433.8 136.3,433.2 137.6,432.5 138.9,431.7 140.2,431.1 141.6,430.3 143.0,429.5 144.4,428.7 145.9,427.9 147.3,427.2 148.6,426.7 149.8,426.5 150.9,426.5 152.0,426.6 153.1,426.7 154.1,426.8 155.2,426.7 156.4,426.4 157.5,425.9 158.7,425.3 159.8,424.8 160.9,424.4 161.9,424.4 162.8,424.7 163.6,425.2 164.4,425.9 165.2,426.7 166.0,427.6 166.9,428.4 167.9,429.2 169.0,430.1 170.2,431.1 171.3,432.0 172.5,432.8 173.6,433.4 174.7,433.7 175.8,433.8 176.9,433.7 178.0,433.7 179.2,433.9 180.3,434.4 181.4,435.4 182.5,436.7 183.6,438.2 184.7,439.7 185.8,441.0 186.9,441.7 188.1,442.0 189.2,441.9 190.3,441.6 191.4,441.1 192.5,440.5 193.6,440.1 194.8,439.6 195.9,439.1 197.1,438.6 198.2,438.0 199.3,437.4 200.3,436.7 201.2,435.9 201.9,435.0 202.5,434.1 203.2,433.1 204.0,432.3 205.0,431.7 206.2,431.4 207.6,431.3 209.2,431.2 210.7,431.3 212.1,431.2 213.4,431.1 214.4,430.7 215.3,430.3 216.1,429.8 216.9,429.2 217.6,428.8 218.4,428.4 219.1,428.0 219.9,427.6 220.6,427.3 221.3,427.0 222.0,426.9 222.7,427.0 223.4,427.4 224.0,428.0 224.7,428.8 225.3,429.6 226.0,430.4 226.7,431.1 227.5,431.5 228.2,432.0 229.0,432.3 229.9,432.7 230.8,433.0 231.7,433.4 232.7,433.8 233.9,434.2 235.1,434.5 236.2,434.9 237.4,435.3 238.4,435.7 239.3,436.2 240.1,436.8 240.9,437.4 241.7,437.9 242.5,438.3 243.4,438.4 244.4,438.2 245.5,437.7 246.6,437.1 247.8,436.4 248.9,435.9 250.1,435.7 251.2,435.9 252.2,436.2 253.3,436.7 254.4,437.3 255.5,437.9 256.8,438.4 258.0,438.8 259.4,439.3 260.8,439.8 262.3,440.2 263.7,440.6 265.1,441.1 266.5,441.5 268.0,442.1 269.5,442.6 270.9,443.1 272.2,443.3 273.4,443.4 274.5,443.2 275.4,442.8 276.2,442.2 276.9,441.5 277.7,440.8 278.5,440.1 279.3,439.3 280.1,438.4 280.9,437.4 281.7,436.5 282.5,435.7 283.5,435.1 284.5,434.7 285.6,434.4 286.7,434.3 287.8,434.3 289.0,434.3 290.1,434.4 291.3,434.5 292.4,434.7 293.6,435.0 294.7,435.3 295.8,435.6 296.8,435.7 297.7,435.9 298.6,436.0 299.4,436.2 300.2,436.2 301.0,436.1 301.8,435.7 302.6,435.0 303.4,434.0 304.1,432.9 304.9,431.7 305.8,430.7 306.8,430.1 308.0,429.8 309.4,429.7 310.8,429.8 312.3,430.0 313.7,430.1 315.2,430.1 316.6,429.8 318.0,429.6 319.3,429.3 320.7,428.9 322.1,428.4 323.5,427.7 324.9,426.8 326.4,425.5 327.9,424.2 329.3,422.9 330.7,421.8 331.9,421.0 332.9,420.7 333.8,420.6 334.6,420.8 335.3,421.1 336.1,421.4 336.9,421.7 337.7,422.1 338.5,422.6 339.3,423.1 340.1,423.7 340.9,424.1 341.9,424.4 342.9,424.4 344.0,424.2 345.1,423.9 346.3,423.6 347.4,423.4 348.6,423.4 349.7,423.6 350.8,424.0 351.9,424.4 353.0,424.9 354.1,425.4 355.2,425.7 356.4,425.9 357.5,426.0 358.7,426.0 359.8,426.1 360.9,426.3 361.9,426.7 362.8,427.4 363.7,428.3 364.5,429.3 365.3,430.3 366.1,431.4 366.9,432.4 367.7,433.4 368.5,434.5 369.3,435.6 370.1,436.6 371.0,437.3 371.9,437.7 372.9,437.7 374.0,437.3 375.2,436.6 376.3,435.9 377.5,435.3 378.6,435.1 379.7,435.0 380.8,435.2 381.9,435.4 383.1,435.8 384.2,436.2 385.3,436.7 386.4,437.4 387.6,438.3 388.7,439.2 389.9,440.2 390.9,441.1 392.0,441.7 392.9,442.3 393.6,442.9 394.4,443.4 395.1,443.8 396.0,443.8 397.0,443.4 398.1,442.4 399.5,440.8 400.9,438.9 402.3,437.0 403.7,435.4 405.0,434.4 406.2,434.1 407.3,434.3 408.4,434.8 409.5,435.5 410.6,436.2 411.7,436.7 412.8,437.2 413.9,437.8 415.0,438.4 416.1,439.0 417.2,439.6 418.4,440.1 419.5,440.6 420.6,441.2 421.8,441.8 422.9,442.3 424.0,442.5 425.0,442.4 426.0,441.9 426.8,441.1 427.6,440.1 428.4,439.0 429.2,437.8 430.0,436.7 430.9,435.6 431.7,434.3 432.4,433.0 433.3,431.7 434.1,430.7 435.1,430.1 436.0,429.8 437.1,429.9 438.2,430.2 439.3,430.6 440.5,430.9 441.7,431.1 443.1,431.0 444.5,430.9 446.0,430.7 447.5,430.5 448.9,430.3 450.1,430.1 451.1,429.8 452.0,429.5 452.8,429.3 453.5,429.0 454.3,428.7 455.1,428.4 455.9,428.1 456.7,427.7 457.5,427.3 458.3,427.0 459.2,426.8 460.1,426.7 461.1,426.8 462.3,427.0 463.4,427.3 464.6,427.6 465.7,428.0 466.8,428.4 467.7,428.8 468.6,429.2 469.4,429.6 470.2,430.1 471.0,430.6 471.8,431.1 472.6,431.6 473.4,432.3 474.3,433.0 475.1,433.6 475.9,434.1 476.8,434.4 477.6,434.4 478.4,434.3 479.2,434.0 480.0,433.7 480.9,433.5 481.8,433.4 482.8,433.5 484.0,433.8 485.1,434.2 486.3,434.6 487.4,434.9 488.5,435.1 489.4,435.1 490.3,435.2 491.1,435.2 491.9,435.1 492.7,434.8 493.5,434.4 494.3,433.6 495.1,432.6 496.0,431.5 496.8,430.3 497.6,429.2 498.5,428.4 499.3,427.8 500.0,427.4 500.7,427.1 501.4,426.9 502.4,426.7 503.5,426.7 504.9,426.9 506.6,427.2 508.4,427.7 510.2,428.1 512.0,428.4 513.5,428.4 514.8,428.1 516.0,427.6 517.1,426.9 518.1,426.2 519.1,425.6 520.2,425.0 521.3,424.7 522.4,424.4 523.5,424.1 524.6,423.9 525.7,423.7 526.9,423.4 528.0,423.0 529.2,422.6 530.4,422.2 531.6,421.8 532.6,421.4 533.5,421.0 534.3,420.6 534.8,420.1 535.3,419.6 535.8,419.2 536.3,419.0 536.9,419.0 537.6,419.4 538.4,420.0 539.2,420.8 540.0,421.6 540.9,422.5 541.9,423.4 542.9,424.2 544.0,425.2 545.2,426.2 546.4,427.1 547.5,427.9 548.6,428.4 549.5,428.6 550.3,428.6 551.1,428.4 551.9,428.1 552.7,427.9 553.6,427.7 554.5,427.5 555.5,427.3 556.5,427.0 557.6,426.8 558.6,426.8 559.6,427.0 560.5,427.6 561.5,428.5 562.4,429.6 563.3,430.6 564.2,431.6 565.2,432.4 566.3,432.9 567.4,433.3 568.5,433.6 569.7,433.9 570.8,434.1 571.9,434.4 573.0,434.7 574.2,435.0 575.3,435.3 576.4,435.5 577.5,435.7 578.6,435.7 579.7,435.6 580.8,435.4 581.9,435.1 583.1,434.7 584.2,434.4 585.3,434.1 586.4,433.8 587.6,433.5 588.8,433.3 590.0,433.0 591.0,432.7 592.0,432.4 592.7,432.1 593.3,431.7 593.8,431.3 594.3,430.9 594.8,430.5 595.3,430.1 595.9,429.5 596.5,428.9 597.2,428.2 597.8,427.6 598.3,427.1 598.6,426.7" fill="none" stroke="#ff1010" stroke-width="1.1" stroke-linejoin="round"/>
<!-- separator -->
<rect x="0" y="400.3" width="633" height="1.8" fill="#5a5a5a"/>
<!-- axes -->
<rect x="632.3" y="0" width="1.25" height="488" fill="#000"/>
<rect x="631.2" y="150.2" width="2.8" height="237.4" fill="#000"/>
<rect x="0" y="487" width="633" height="1" fill="#111"/>
<rect x="633" y="-0.7" width="2" height="1" fill="#222"/><text x="637.3" y="2.8" font-size="8.4" fill="#222" textLength="21.7" lengthAdjust="spacingAndGlyphs">1.3722</text><rect x="633" y="25.9" width="2" height="1" fill="#222"/><text x="637.3" y="29.4" font-size="8.4" fill="#222" textLength="21.7" lengthAdjust="spacingAndGlyphs">1.3557</text><rect x="633" y="52.5" width="2" height="1" fill="#222"/><text x="637.3" y="56.0" font-size="8.4" fill="#222" textLength="21.7" lengthAdjust="spacingAndGlyphs">1.3397</text><rect x="633" y="79.2" width="2" height="1" fill="#222"/><text x="637.3" y="82.7" font-size="8.4" fill="#222" textLength="21.7" lengthAdjust="spacingAndGlyphs">1.3232</text><rect x="633" y="105.8" width="2" height="1" fill="#222"/><text x="637.3" y="109.3" font-size="8.4" fill="#222" textLength="21.7" lengthAdjust="spacingAndGlyphs">1.3072</text><rect x="633" y="132.4" width="2" height="1" fill="#222"/><text x="637.3" y="135.9" font-size="8.4" fill="#222" textLength="21.7" lengthAdjust="spacingAndGlyphs">1.2907</text><rect x="633" y="159.0" width="2" height="1" fill="#222"/><text x="637.3" y="162.5" font-size="8.4" fill="#222" textLength="21.7" lengthAdjust="spacingAndGlyphs">1.2747</text><rect x="633" y="185.6" width="2" height="1" fill="#222"/><text x="637.3" y="189.1" font-size="8.4" fill="#222" textLength="21.7" lengthAdjust="spacingAndGlyphs">1.2587</text><rect x="633" y="212.3" width="2" height="1" fill="#222"/><text x="637.3" y="215.8" font-size="8.4" fill="#222" textLength="21.7" lengthAdjust="spacingAndGlyphs">1.2422</text><rect x="633" y="238.9" width="2" height="1" fill="#222"/><text x="637.3" y="242.4" font-size="8.4" fill="#222" textLength="21.7" lengthAdjust="spacingAndGlyphs">1.2262</text><rect x="633" y="265.5" width="2" height="1" fill="#222"/><text x="637.3" y="269.0" font-size="8.4" fill="#222" textLength="21.7" lengthAdjust="spacingAndGlyphs">1.2097</text><rect x="633" y="292.1" width="2" height="1" fill="#222"/><text x="637.3" y="295.6" font-size="8.4" fill="#222" textLength="21.7" lengthAdjust="spacingAndGlyphs">1.1937</text><rect x="633" y="318.7" width="2" height="1" fill="#222"/><text x="637.3" y="322.2" font-size="8.4" fill="#222" textLength="21.7" lengthAdjust="spacingAndGlyphs">1.1777</text><rect x="633" y="345.4" width="2" height="1" fill="#222"/><text x="637.3" y="348.9" font-size="8.4" fill="#222" textLength="21.7" lengthAdjust="spacingAndGlyphs">1.1612</text><rect x="633" y="372.0" width="2" height="1" fill="#222"/><text x="637.3" y="375.5" font-size="8.4" fill="#222" textLength="21.7" lengthAdjust="spacingAndGlyphs">1.1452</text><rect x="633" y="398.6" width="2" height="1" fill="#222"/><text x="637.3" y="402.1" font-size="8.4" fill="#222" textLength="21.7" lengthAdjust="spacingAndGlyphs">1.1287</text><text x="635.3" y="411.5" font-size="8.4" fill="#222" textLength="25.7" lengthAdjust="spacingAndGlyphs">0.02947</text><rect x="633" y="434" width="2" height="1" fill="#222"/><text x="637.3" y="437.3" font-size="8.4" fill="#222" textLength="14.5" lengthAdjust="spacingAndGlyphs">0.00</text><text x="635.3" y="484.8" font-size="8.4" fill="#222" textLength="28" lengthAdjust="spacingAndGlyphs">-0.05133</text>
<rect x="633" y="72" width="30" height="8" fill="#000"/>
<text x="638" y="78.9" font-size="8" fill="#fff" textLength="22" lengthAdjust="spacingAndGlyphs">1.3254</text>
<rect x="-26.9" y="486" width="1" height="3.5" fill="#222"/><text transform="translate(-27.3,497.5) scale(0.877,1)" font-size="8.4" fill="#222">19 Feb 04:00</text><rect x="24.8" y="486" width="1" height="3.5" fill="#222"/><text transform="translate(24.4,497.5) scale(0.877,1)" font-size="8.4" fill="#222">5 Mar 20:00</text><rect x="76.5" y="486" width="1" height="3.5" fill="#222"/><text transform="translate(76.1,497.5) scale(0.877,1)" font-size="8.4" fill="#222">20 Mar 12:00</text><rect x="128.1" y="486" width="1" height="3.5" fill="#222"/><text transform="translate(127.7,497.5) scale(0.877,1)" font-size="8.4" fill="#222">6 Apr 04:00</text><rect x="179.8" y="486" width="1" height="3.5" fill="#222"/><text transform="translate(179.4,497.5) scale(0.877,1)" font-size="8.4" fill="#222">20 Apr 20:00</text><rect x="231.5" y="486" width="1" height="3.5" fill="#222"/><text transform="translate(231.1,497.5) scale(0.877,1)" font-size="8.4" fill="#222">5 May 12:00</text><rect x="283.2" y="486" width="1" height="3.5" fill="#222"/><text transform="translate(282.8,497.5) scale(0.877,1)" font-size="8.4" fill="#222">20 May 04:00</text><rect x="334.8" y="486" width="1" height="3.5" fill="#222"/><text transform="translate(334.4,497.5) scale(0.877,1)" font-size="8.4" fill="#222">3 Jun 20:00</text><rect x="386.5" y="486" width="1" height="3.5" fill="#222"/><text transform="translate(386.1,497.5) scale(0.877,1)" font-size="8.4" fill="#222">18 Jun 12:00</text><rect x="438.2" y="486" width="1" height="3.5" fill="#222"/><text transform="translate(437.8,497.5) scale(0.877,1)" font-size="8.4" fill="#222">3 Jul 04:00</text><rect x="489.8" y="486" width="1" height="3.5" fill="#222"/><text transform="translate(489.4,497.5) scale(0.877,1)" font-size="8.4" fill="#222">17 Jul 20:00</text><rect x="541.5" y="486" width="1" height="3.5" fill="#222"/><text transform="translate(541.1,497.5) scale(0.877,1)" font-size="8.4" fill="#222">3 Aug 12:00</text><rect x="593.2" y="486" width="1" height="3.5" fill="#222"/><text transform="translate(592.8,497.5) scale(0.877,1)" font-size="8.4" fill="#222">18 Aug 04:00</text>
<!-- labels -->
<text x="33.3" y="81.5" font-size="16" fill="#0000ff" text-anchor="middle">D</text><text x="6.7" y="187.5" font-size="16" fill="#0000ff" text-anchor="middle">C</text><text x="74.0" y="396.5" font-size="16" fill="#0000ff" text-anchor="middle">E</text><text x="160.5" y="166.0" font-size="16" fill="#0000ff" text-anchor="middle">W</text><text x="272.9" y="300.8" font-size="16" fill="#0000ff" text-anchor="middle">X</text><text x="358.5" y="135.5" font-size="16" fill="#0000ff" text-anchor="middle">Y</text><text x="423.6" y="270.0" font-size="16" fill="#0000ff" text-anchor="middle">XX</text><text x="617.2" y="31.6" font-size="16" fill="#0000ff" text-anchor="middle">Z</text><text x="6.0" y="177.0" font-size="14" fill="#008000" text-anchor="middle">c</text><text x="102.5" y="204.8" font-size="14" fill="#008000" text-anchor="middle">a</text><text x="132.6" y="271.3" font-size="14" fill="#008000" text-anchor="middle">b</text><text x="159.0" y="176.5" font-size="14" fill="#008000" text-anchor="middle">c</text><text x="183.9" y="254.0" font-size="14" fill="#008000" text-anchor="middle">a</text><text x="218.0" y="177.0" font-size="14" fill="#008000" text-anchor="middle">b</text><text x="281.9" y="232.5" font-size="14" fill="#008000" text-anchor="middle">a</text><text x="271.9" y="284.5" font-size="14" fill="#008000" text-anchor="middle">c</text><text x="296.7" y="280.8" font-size="14" fill="#008000" text-anchor="middle">b</text><text x="358.3" y="146.5" font-size="14" fill="#008000" text-anchor="middle">c</text><text x="369.5" y="221.5" font-size="14" fill="#008000" text-anchor="middle">w</text><text x="376.0" y="169.0" font-size="14" fill="#008000" text-anchor="middle">x</text><text x="393.3" y="246.5" font-size="14" fill="#008000" text-anchor="middle">y</text><text x="404.5" y="192.0" font-size="14" fill="#008000" text-anchor="middle">xx</text><text x="424.3" y="256.5" font-size="14" fill="#008000" text-anchor="middle">z</text><text x="459.8" y="171.5" font-size="14" fill="#008000" text-anchor="middle">a</text><text x="475.2" y="218.5" font-size="14" fill="#008000" text-anchor="middle">b</text><text x="616.5" y="40.4" font-size="14" fill="#008000" text-anchor="middle">c</text><text x="477.2" y="175.2" font-size="13" fill="#ff0000" text-anchor="middle">1</text><text x="488.8" y="213.0" font-size="13" fill="#ff0000" text-anchor="middle">2</text><text x="535.7" y="87.3" font-size="13" fill="#ff0000" text-anchor="middle">3</text><text x="574.8" y="131.7" font-size="13" fill="#ff0000" text-anchor="middle">4</text><text x="616.8" y="49.8" font-size="12" fill="#ff0000" text-anchor="middle">5</text>
<!-- logo -->
<rect x="244" y="473" width="177.7" height="29.6" fill="#e4686f"/>
<text x="290.6" y="494.5" font-size="22" fill="#fff" stroke="#e4686f" stroke-width="0.35" textLength="84.3" lengthAdjust="spacingAndGlyphs">instaforex</text>
</svg>
</body></html>
